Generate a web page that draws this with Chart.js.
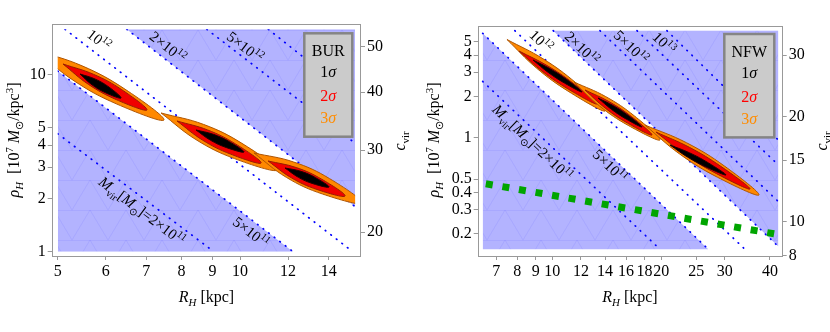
<!DOCTYPE html>
<html>
<head>
<meta charset="utf-8">
<script src="https://cdn.jsdelivr.net/npm/chart.js@4.4.1/dist/chart.umd.min.js"></script>
<style>
  html, body { margin: 0; padding: 0; background: #fff; }
  #wrap { position: relative; width: 830px; height: 332px; }
  .panel { position: absolute; top: 0; }
</style>
</head>
<body>
<div id="wrap">
  <canvas class="panel" id="bur" width="415" height="332" style="left:0"></canvas>
  <canvas class="panel" id="nfw" width="415" height="332" style="left:415px"></canvas>
</div>
<script>
// ---------- BUR panel data (R_H in kpc, rho_H in 1e7 Msun/kpc^3) ----------
const burXTicks = [5, 6, 7, 8, 9, 10, 12, 14];
const burYTicks = [1, 2, 3, 4, 5, 10];
const burCTicks = [20, 30, 40, 50];
const burRRange = [5.0, 15.48];
const burRhoRange = [1.0, 18.05];
// M_vir = 2e11, 5e11, 1e12, 2e12, 5e12, 1e13
const burMassLines = [
  [[5.00, 4.64], [9.05, 1.00]],
  [[5.00, 10.49], [12.23, 1.00]],
  [[5.14, 18.05], [15.09, 1.045]],
  [[6.50, 18.05], [15.48, 1.796]],
  [[8.81, 18.05], [15.48, 4.10]],
  [[11.13, 18.05], [15.48, 7.36]]
];
const burSigma3 = [
  [[4.587, 13.79], [5.484, 11.22], [6.458, 8.279], [7.487, 5.547], [6.263, 6.820], [5.318, 9.239]],
  [[7.404, 6.077], [8.698, 5.240], [10.07, 4.093], [11.50, 2.895], [9.792, 3.356], [8.454, 4.298]],
  [[10.54, 3.611], [12.25, 3.213], [14.05, 2.587], [15.89, 1.884], [13.68, 2.117], [11.92, 2.630]]
];
const burSigma2 = [
  [[5.102, 11.49], [5.733, 10.04], [6.378, 8.226], [7.019, 6.318], [6.247, 7.230], [5.616, 8.828]],
  [[7.867, 5.475], [8.836, 4.874], [9.827, 4.063], [10.83, 3.170], [9.640, 3.561], [8.667, 4.273]],
  [[11.12, 3.254], [12.37, 2.990], [13.63, 2.569], [14.90, 2.064], [13.39, 2.247], [12.15, 2.615]]
];
const burSigma1 = [
  [[5.442, 10.09], [5.768, 9.438], [6.077, 8.505], [6.360, 7.385], [6.000, 7.896], [5.696, 8.763]],
  [[8.456, 4.870], [9.034, 4.604], [9.600, 4.185], [10.15, 3.658], [9.500, 3.870], [8.940, 4.259]],
  [[11.86, 2.971], [12.60, 2.846], [13.32, 2.621], [14.02, 2.320], [13.19, 2.422], [12.48, 2.630]]
];

// ---------- NFW panel data ----------
const nfwXTicks = [7, 8, 9, 10, 12, 14, 16, 18, 20, 25, 30, 40];
const nfwYTicks = [0.2, 0.3, 0.4, 0.5, 1, 2, 3, 4, 5];
const nfwCTicks = [8, 10, 15, 20, 30];
const nfwRRange = [6.42, 42.2];
const nfwRhoRange = [0.154, 6.02];
// M_vir = 2e11, 5e11, 1e12, 2e12, 5e12, 1e13, 2e13
const nfwMassLines = [
  [[6.42, 2.57], [19.85, 0.154]],
  [[6.42, 5.76], [27.0, 0.154]],
  [[7.88, 6.02], [34.1, 0.154]],
  [[10.06, 6.02], [42.2, 0.161]],
  [[13.55, 6.02], [42.2, 0.342]],
  [[17.15, 6.02], [42.2, 0.633]],
  [[20.75, 6.02], [42.2, 0.96]]
];
const nfwGreen = [[6.55, 0.462], [43.37, 0.1946]];
const nfwSigma3 = [
  [[7.494, 5.191], [9.426, 3.758], [11.60, 2.520], [13.99, 1.565], [11.12, 2.162], [9.033, 3.224]],
  [[11.48, 2.545], [14.06, 1.991], [16.88, 1.439], [19.85, 0.9622], [16.21, 1.230], [13.51, 1.701]],
  [[18.04, 1.237], [23.50, 0.9194], [29.93, 0.6217], [37.29, 0.3825], [28.64, 0.5148], [22.49, 0.7615]]
];
const nfwSigma2 = [
  [[8.089, 4.280], [9.675, 3.353], [11.42, 2.494], [13.29, 1.760], [11.11, 2.246], [9.418, 3.020]],
  [[12.32, 2.226], [14.39, 1.824], [16.59, 1.418], [18.87, 1.046], [16.15, 1.277], [14.01, 1.642]],
  [[19.35, 1.100], [23.96, 0.8503], [29.25, 0.6184], [35.22, 0.4231], [28.44, 0.5474], [23.30, 0.7528]]
];
const nfwSigma1 = [
  [[8.845, 3.680], [9.884, 3.168], [10.97, 2.650], [12.08, 2.152], [10.81, 2.500], [9.742, 2.990]],
  [[13.38, 1.946], [14.80, 1.703], [16.24, 1.449], [17.70, 1.197], [16.01, 1.367], [14.59, 1.607]],
  [[21.16, 0.8849], [24.00, 0.7747], [27.03, 0.6552], [30.23, 0.5350], [26.65, 0.6110], [23.66, 0.7225]]
];

// ---------- styling ----------
const SERIF = '"Liberation Serif", "Times New Roman", serif';
const DOT_BLUE = 'rgb(0,0,255)';
const GREEN = 'rgb(0,165,0)';
const ORANGE = 'rgb(255,136,0)';
const ORANGE_EDGE = 'rgb(175,85,0)';
const RED = 'rgb(240,0,0)';
const RED_EDGE = 'rgb(150,30,0)';
const FRAME = '#999';

// light blue fill with the faint triangle mesh seen in the original
function meshPattern() {
  const c = document.createElement('canvas');
  c.width = 36; c.height = 30;
  const g = c.getContext('2d');
  g.fillStyle = 'rgb(179,179,255)';
  g.fillRect(0, 0, 36, 30);
  g.strokeStyle = 'rgba(110,110,255,0.2)';
  g.lineWidth = 0.8;
  g.beginPath();
  g.moveTo(0, 0.5); g.lineTo(36, 0.5);
  g.moveTo(0, 30); g.lineTo(18, 0); g.lineTo(36, 30);
  g.moveTo(-18, 30); g.lineTo(0, 0);
  g.moveTo(36, 0); g.lineTo(54, 30);
  g.stroke();
  return g.createPattern(c, 'repeat');
}
const SHADE = meshPattern();

// rich text: segments {t, i: italic, sub, sup, c: colour}
function rich(ctx, segs, x, y, size, align) {
  const parts = segs.map(s => {
    const fs = (s.sub || s.sup) ? size * 0.68 : size;
    const font = (s.i ? 'italic ' : '') + fs + 'px ' + SERIF;
    ctx.font = font;
    return { s, font, w: ctx.measureText(s.t).width, dy: s.sub ? size * 0.28 : s.sup ? -size * 0.4 : 0 };
  });
  const total = parts.reduce((a, p) => a + p.w, 0);
  let cx = align === 'center' ? x - total / 2 : align === 'right' ? x - total : x;
  ctx.textAlign = 'left';
  ctx.textBaseline = 'alphabetic';
  parts.forEach(p => {
    ctx.font = p.font;
    ctx.fillStyle = p.s.c || '#000';
    ctx.fillText(p.s.t, cx, y + p.dy);
    cx += p.w;
  });
}

const TEN12 = [{ t: '10' }, { t: '12', sup: 1 }];
const TWO12 = [{ t: '2×10' }, { t: '12', sup: 1 }];
const FIVE12 = [{ t: '5×10' }, { t: '12', sup: 1 }];
const TEN13 = [{ t: '10' }, { t: '13', sup: 1 }];
const FIVE11 = [{ t: '5×10' }, { t: '11', sup: 1 }];
const MVIR = [{ t: 'M', i: 1 }, { t: 'vir', sub: 1 }, { t: '[' }, { t: 'M', i: 1 }, { t: '⊙', sub: 1 }, { t: ']=2×10' }, { t: '11', sup: 1 }];
const XTITLE = [{ t: 'R', i: 1 }, { t: 'H', i: 1, sub: 1 }, { t: ' [kpc]' }];
const YTITLE = [{ t: 'ρ', i: 1 }, { t: 'H', i: 1, sub: 1 }, { t: '  [10' }, { t: '7', sup: 1 }, { t: ' ' }, { t: 'M', i: 1 }, { t: '⊙', sub: 1 }, { t: '/kpc' }, { t: '3', sup: 1 }, { t: ']' }];
const CTITLE = [{ t: 'c', i: 1 }, { t: 'vir', sub: 1 }];
const sigmaRows = [
  [{ t: '1' }, { t: 'σ', i: 1 }],
  [{ t: '2', c: 'rgb(255,0,0)' }, { t: 'σ', i: 1, c: 'rgb(255,0,0)' }],
  [{ t: '3', c: 'rgb(255,140,0)' }, { t: 'σ', i: 1, c: 'rgb(255,140,0)' }]
];

function decorations(P) {
  return {
    id: 'decor',
    beforeDatasetsDraw(chart) {
      const { ctx, scales: { x, y } } = chart;
      ctx.save();
      if (P.clipData) {
        const l = x.getPixelForValue(P.rRange[0]), r = x.getPixelForValue(P.rRange[1]);
        const t = y.getPixelForValue(P.rhoRange[1]), b = y.getPixelForValue(P.rhoRange[0]);
        ctx.beginPath();
        ctx.rect(l, t, r - l, b - t);
        ctx.clip();
      }
    },
    afterDatasetsDraw(chart) {
      const { ctx, scales: { x, y } } = chart;
      ctx.restore();
      P.notes.forEach(n => {
        const L = P.lines[n.line];
        const ang = Math.atan2(y.getPixelForValue(L[1][1]) - y.getPixelForValue(L[0][1]),
                               x.getPixelForValue(L[1][0]) - x.getPixelForValue(L[0][0]));
        ctx.save();
        ctx.translate(x.getPixelForValue(n.at[0]), y.getPixelForValue(n.at[1]));
        ctx.rotate(ang);
        rich(ctx, n.segs, 0, 5, 15, 'center');
        ctx.restore();
      });
    },
    afterDraw(chart) {
      const { ctx, chartArea: a } = chart;
      ctx.save();
      ctx.strokeStyle = FRAME;
      ctx.lineWidth = 1;
      ctx.strokeRect(Math.round(a.left) + 0.5, Math.round(a.top) + 0.5,
                     Math.round(a.right - a.left) - 1, Math.round(a.bottom - a.top));
      // legend box
      const lg = P.legend;
      const bx = a.right - lg.dx - lg.w, by = a.top + lg.dy;
      ctx.fillStyle = '#cbcbcb';
      ctx.fillRect(bx, by, lg.w, lg.h);
      ctx.strokeStyle = '#858585';
      ctx.lineWidth = 2.5;
      ctx.strokeRect(bx, by, lg.w, lg.h);
      rich(ctx, [{ t: lg.name }], bx + lg.w / 2, by + 23, 16, 'center');
      sigmaRows.forEach((r, k) => rich(ctx, r, bx + lg.w / 2, by + [44, 67.5, 89.5][k], 16, 'center'));
      // axis titles
      P.titles.forEach(tt => {
        ctx.save();
        ctx.translate(tt.x, tt.y);
        if (tt.rot) ctx.rotate(-Math.PI / 2);
        rich(ctx, tt.segs, 0, 0, 16, 'center');
        ctx.restore();
      });
      ctx.restore();
    }
  };
}

function logAxis(pos, range, ticks, fit) {
  return {
    type: 'logarithmic',
    position: pos,
    min: range[0],
    max: range[1],
    afterBuildTicks: s => { s.ticks = ticks.map(v => ({ value: v })); },
    afterFit: fit,
    ticks: { callback: v => String(v), autoSkip: false, maxRotation: 0, padding: 2,
             color: '#000', font: { family: SERIF, size: 16 } },
    grid: { drawOnChartArea: false, drawTicks: true, tickLength: 4, color: FRAME },
    border: { display: false }
  };
}

function makePanel(id, P) {
  const ds = [];
  const line = (pts, o) => Object.assign({
    data: pts.map(p => ({ x: p[0], y: p[1] })),
    showLine: true, pointRadius: 0, pointHoverRadius: 0,
    borderColor: 'transparent', borderWidth: 1, fill: false, tension: 0,
    xAxisID: 'x', yAxisID: 'y'
  }, o);
  ds.push(line(P.lines[P.lowEdge], { backgroundColor: SHADE, fill: { value: P.rhoRange[0] } }));
  ds.push(line(P.lines[P.highEdge], { backgroundColor: SHADE, fill: { value: P.rhoRange[1] } }));
  P.lines.forEach(l => ds.push(line(l, {
    borderColor: DOT_BLUE, borderWidth: 1.7, borderDash: [0.6, 6.4], borderCapStyle: 'round'
  })));
  if (P.green) ds.push(line(P.green, { borderColor: GREEN, borderWidth: 7, borderDash: [7, 9.8] }));
  P.s3.forEach((_, b) => {
    [[P.s3[b], ORANGE, ORANGE_EDGE], [P.s2[b], RED, RED_EDGE], [P.s1[b], '#000', '#200']].forEach(([pts, f, e]) => {
      ds.push(line(pts.concat([pts[0]]), {
        fill: 'shape', backgroundColor: f, borderColor: e, borderWidth: 1, tension: 0.4
      }));
    });
  });
  ds.forEach((d, i) => { d.order = ds.length - i; });

  return new Chart(document.getElementById(id), {
    type: 'scatter',
    data: { datasets: ds },
    options: {
      responsive: false,
      animation: false,
      layout: { padding: { top: P.box.top, left: 0, right: 0, bottom: 0 } },
      plugins: { legend: { display: false }, tooltip: { enabled: false } },
      scales: {
        x: logAxis('bottom', P.xFrame, P.xTicks, s => { s.height = 332 - P.box.bottom; }),
        y: logAxis('left', P.yFrame, P.yTicks, s => { s.width = P.box.left; }),
        c: logAxis('right', P.cFrame, P.cTicks, s => { s.width = 415 - P.box.right; })
      }
    },
    plugins: [decorations(P)]
  });
}

makePanel('bur', {
  lines: burMassLines, lowEdge: 1, highEdge: 3,
  rRange: burRRange, rhoRange: burRhoRange, clipData: true,
  s3: burSigma3, s2: burSigma2, s1: burSigma1,
  xTicks: burXTicks, yTicks: burYTicks, cTicks: burCTicks,
  xFrame: [4.887, 15.83], yFrame: [0.9456, 19.26], cFrame: [17.78, 55.94],
  box: { left: 51.7, right: 361, top: 24.3, bottom: 256 },
  legend: { name: 'BUR', dx: 8.7, dy: 9, w: 48, h: 103.4 },
  notes: [
    { segs: TEN12, at: [5.85, 15.7], line: 2 },
    { segs: TWO12, at: [7.60, 14.34], line: 3 },
    { segs: FIVE12, at: [10.19, 14.34], line: 4 },
    { segs: MVIR, at: [6.89, 1.70], line: 0 },
    { segs: FIVE11, at: [10.42, 1.29], line: 1 }
  ],
  titles: [
    { segs: XTITLE, x: 206.5, y: 302 },
    { segs: YTITLE, x: 19, y: 140, rot: true },
    { segs: CTITLE, x: 405, y: 141, rot: true }
  ]
});

makePanel('nfw', {
  lines: nfwMassLines, lowEdge: 1, highEdge: 3, green: nfwGreen,
  rRange: nfwRRange, rhoRange: nfwRhoRange, clipData: false,
  s3: nfwSigma3, s2: nfwSigma2, s1: nfwSigma1,
  xTicks: nfwXTicks, yTicks: nfwYTicks, cTicks: nfwCTicks,
  xFrame: [6.22, 43.37], yFrame: [0.1375, 6.51], cFrame: [7.98, 36.32],
  box: { left: 62.7, right: 367.7, top: 26, bottom: 256 },
  legend: { name: 'NFW', dx: 8.4, dy: 8, w: 50, h: 103.4 },
  notes: [
    { segs: TEN12, at: [9.31, 5.06], line: 2 },
    { segs: TWO12, at: [12.08, 4.50], line: 3 },
    { segs: FIVE12, at: [16.51, 4.58], line: 4 },
    { segs: TEN13, at: [20.37, 4.90], line: 5 },
    { segs: MVIR, at: [8.82, 0.9227], line: 0 },
    { segs: FIVE11, at: [14.44, 0.622], line: 1 }
  ],
  titles: [
    { segs: XTITLE, x: 215, y: 302 },
    { segs: YTITLE, x: 24, y: 140, rot: true },
    { segs: CTITLE, x: 412, y: 141, rot: true }
  ]
});
</script>
</body>
</html>
